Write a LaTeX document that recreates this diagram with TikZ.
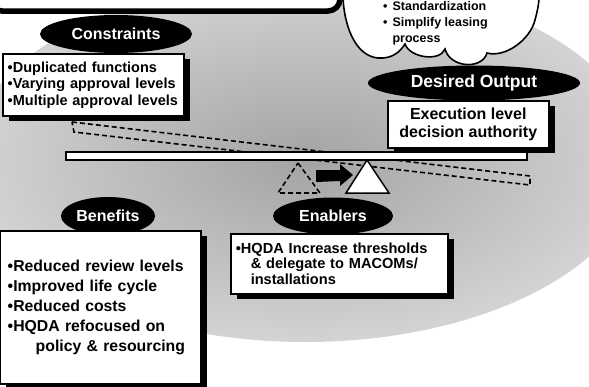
\documentclass[tikz,border=0pt]{standalone}
\usepackage{fontspec}
\setmainfont{Liberation Sans}
\usetikzlibrary{shapes.geometric,shapes.arrows,shadows}
\begin{document}
\begin{tikzpicture}[x=1pt,y=-1pt,
  lbl/.style={ellipse, fill=black, text=white, inner sep=0pt,
    font=\bfseries\fontsize{16}{18}\selectfont},
  box/.style={draw=black, line width=1.5pt, fill=white, rectangle,
    anchor=north west, inner ysep=0pt,
    drop shadow={opacity=1, fill=black, shadow xshift=6.5pt, shadow yshift=-5.5pt}},
  dsh/.style={dash pattern=on 5pt off 3pt, line width=1.6pt},
  solidline/.style={line width=1.5pt},
]
\useasboundingbox (0,0) rectangle (589,386);
% stippled background
\shade[inner color=black!36, outer color=black!17]
  (305,160) ellipse [x radius=335pt, y radius=182pt];
% top bar (box cut off at top)
\draw[line width=5.5pt, rounded corners=12pt, fill=white] (-10,-40) rectangle (340,11);
% cloud
\draw[line width=1.6pt, fill=white]
  (343,-3) .. controls (344,25) and (355,56) .. (378,58)
  .. controls (392,59) and (400,52) .. (405,44)
  .. controls (410,58) and (440,62) .. (445,49)
  .. controls (450,68) and (482,70) .. (487,53)
  .. controls (505,58) and (530,40) .. (535,20)
  .. controls (537,12) and (539,5) .. (539,-3) -- cycle;
\node[anchor=north west, inner sep=0pt, font=\bfseries\fontsize{12.5}{16}\selectfont]
  (cloudtext) at (383,-1)
  {\begin{tabular}{@{}l@{\hspace{5pt}}l@{}}
   \textbullet & Standardization\\
   \textbullet & Simplify leasing\\
   & process
   \end{tabular}};
% tilted dashed beam and dashed fulcrum
\draw[dsh] (72,122) -- (530,176) -- (530,185) -- (74,132) -- cycle;
\draw[dsh] (298,163) -- (320,193) -- (278,193) -- cycle;
% level beam
\node[draw, solidline, fill=white, anchor=north west, inner sep=0pt,
  minimum width=461pt, minimum height=8pt] (beam) at (65,151) {};
% fulcrum
\draw[solidline, fill=white] (367,160) -- (389,193) -- (346,193) -- cycle;
% work arrow (block arrow pointing right)
\fill[black] (316,170) -- (340,170) -- (340,164) -- (353,175) -- (340,186) -- (340,181)
  -- (316,182) -- cycle;
% labels
\node[lbl, minimum width=152pt, minimum height=38pt] (cons) at (116,34) {Constraints};
\node[lbl, minimum width=212pt, minimum height=35pt,
  font=\bfseries\fontsize{17.5}{20}\selectfont] (des) at (474,83) {Desired Output};
\node[lbl, minimum width=94pt, minimum height=38pt] (ben) at (108,216) {Benefits};
\node[lbl, minimum width=120pt, minimum height=37pt] (ena) at (333,216) {Enablers};
% boxes
\node[box, inner xsep=5pt, text width=171pt, minimum height=62pt, align=left,
  font=\bfseries\fontsize{14.5}{16.5}\selectfont] (consbox) at (2,53)
  {\textbullet Duplicated functions\\\textbullet Varying approval levels\\\textbullet Multiple approval levels};
\node[box, inner xsep=0pt, minimum width=161pt, minimum height=47pt, align=center,
  font=\bfseries\fontsize{16}{18}\selectfont] (exec) at (387,100)
  {Execution level\\decision authority};
\node[box, inner xsep=8pt, text width=185pt, minimum height=153pt, align=left,
  font=\bfseries\fontsize{15.8}{20}\selectfont] (benbox) at (-1,230)
  {\textbullet Reduced review levels\\\textbullet Improved life cycle\\\textbullet Reduced costs\\\textbullet HQDA refocused on\\\hspace*{28pt}policy \& resourcing};
\node[box, inner xsep=5pt, text width=207pt, minimum height=60pt, align=left,
  font=\bfseries\fontsize{14.6}{15.5}\selectfont] (enabox) at (230,233)
  {\textbullet HQDA Increase thresholds\\\hspace*{15pt}\& delegate to MACOMs/\\\hspace*{15pt}installations};
\end{tikzpicture}
\end{document}
